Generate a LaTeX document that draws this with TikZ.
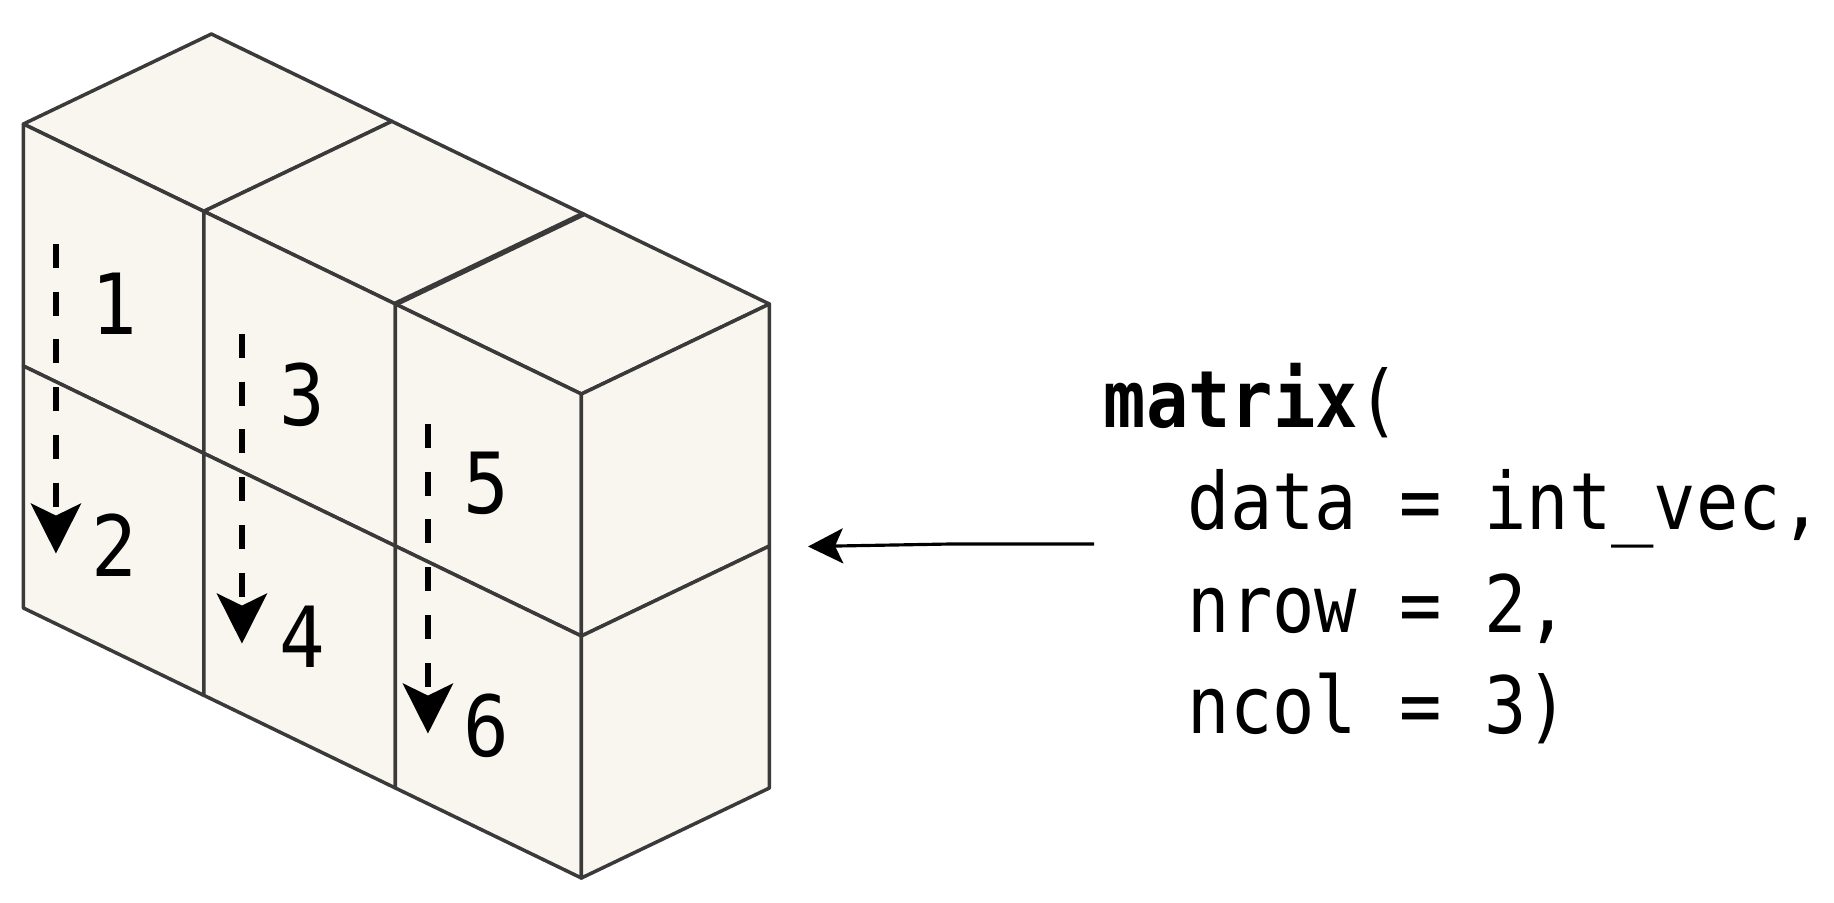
\documentclass[tikz,border=0pt]{standalone}
\usepackage{fontspec}
\newfontfamily\codefont[FakeStretch=0.89]{DejaVu Sans Mono}
\newfontfamily\numfont[FakeStretch=0.9]{DejaVu Sans Mono}
\usetikzlibrary{arrows.meta}
\definecolor{cubefill}{HTML}{F8F6EE}
\definecolor{cubeedge}{HTML}{3A3A3A}
\tikzset{
	face/.style={fill=cubefill, draw=cubeedge, line width=1pt, line join=round},
	cellnum/.style={font=\numfont\fontsize{24}{24}\selectfont, inner sep=0pt},
	readorder/.style={line width=1.7pt, dash pattern=on 6.8pt off 6.8pt, -{Stealth[length=5mm,width=5mm,inset=1.2mm]}},
	codeline/.style={font=\codefont\fontsize{22.5}{22.5}\selectfont, inner sep=0pt, anchor=base west},
	pointer/.style={line width=0.9pt, -{Stealth[length=3.5mm,width=3.5mm,inset=0.8mm]}},
}

\begin{document}
\begin{tikzpicture}
			%%%%% START %%%%%
			\useasboundingbox (0,0) rectangle (18.34,9.02);
			
			\begin{scope}[shift={(0.234,7.78)}, x={(1.86cm,-0.90cm)}, y={(0cm,2.42cm)}, z={(1.88cm,0.90cm)}]
			% tops
			\draw[face] (0,0,0) -- (0.97,0,0) -- (0.97,0,1) -- (0,0,1) -- cycle;
			\draw[face] (0.97,0,0) -- (2,0,0) -- (2,0,1) -- (0.97,0,1) -- cycle;
			\draw[face] (2,0,0) -- (3,0,0) -- (3,0,1) -- (2,0,1) -- cycle;
			
			% front cells
			\draw[face] (0,0,0) -- (0.97,0,0) -- (0.97,-1,0) -- (0,-1,0) -- cycle;
			\draw[face] (0,-1,0) -- (0.97,-1,0) -- (0.97,-2,0) -- (0,-2,0) -- cycle;
			\draw[face] (0.97,0,0) -- (2,0,0) -- (2,-1,0) -- (0.97,-1,0) -- cycle;
			\draw[face] (0.97,-1,0) -- (2,-1,0) -- (2,-2,0) -- (0.97,-2,0) -- cycle;
			\draw[face] (2,0,0) -- (3,0,0) -- (3,-1,0) -- (2,-1,0) -- cycle;
			\draw[face] (2,-1,0) -- (3,-1,0) -- (3,-2,0) -- (2,-2,0) -- cycle;
			
			% right side
			\draw[face] (3,0,0) -- (3,0,1) -- (3,-1,1) -- (3,-1,0) -- cycle;
			\draw[face] (3,-1,0) -- (3,-1,1) -- (3,-2,1) -- (3,-2,0) -- cycle;
			
			\draw[cubeedge, line width=1.5pt] (2,0,0) -- (2,0,1);
			
			\node[cellnum] (n1) at (0.49,-0.56,0) {1};
			\node[cellnum] (n2) at (0.49,-1.56,0) {2};
			\node[cellnum] (n3) at (1.5,-0.56,0) {3};
			\node[cellnum] (n4) at (1.5,-1.56,0) {4};
			\node[cellnum] (n5) at (2.49,-0.56,0) {5};
			\node[cellnum] (n6) at (2.49,-1.56,0) {6};
			
			\draw[readorder] (0.175,-0.43,0) -- (0.175,-1.71,0);
			\draw[readorder] (1.175,-0.43,0) -- (1.175,-1.71,0);
			\draw[readorder] (2.175,-0.43,0) -- (2.175,-1.71,0);
			\end{scope}
			
			\node[codeline] (call) at (11.03,4.75) {\textbf{matrix}(};
			\node[codeline] (argdata) at (11.87,3.73) {data = int\_vec,};
			\node[codeline] (argrow) at (11.87,2.70) {nrow = 2,};
			\node[codeline] (argcol) at (11.87,1.69) {ncol = 3)};
			
			\coordinate (arrtail) at (10.94,3.58);
			\coordinate (arrtip) at (8.08,3.555);
			\draw[pointer] (arrtail) -- ++(-1.44,0) -- (arrtip);
			%%%%% END %%%%%
\end{tikzpicture}
\end{document}
